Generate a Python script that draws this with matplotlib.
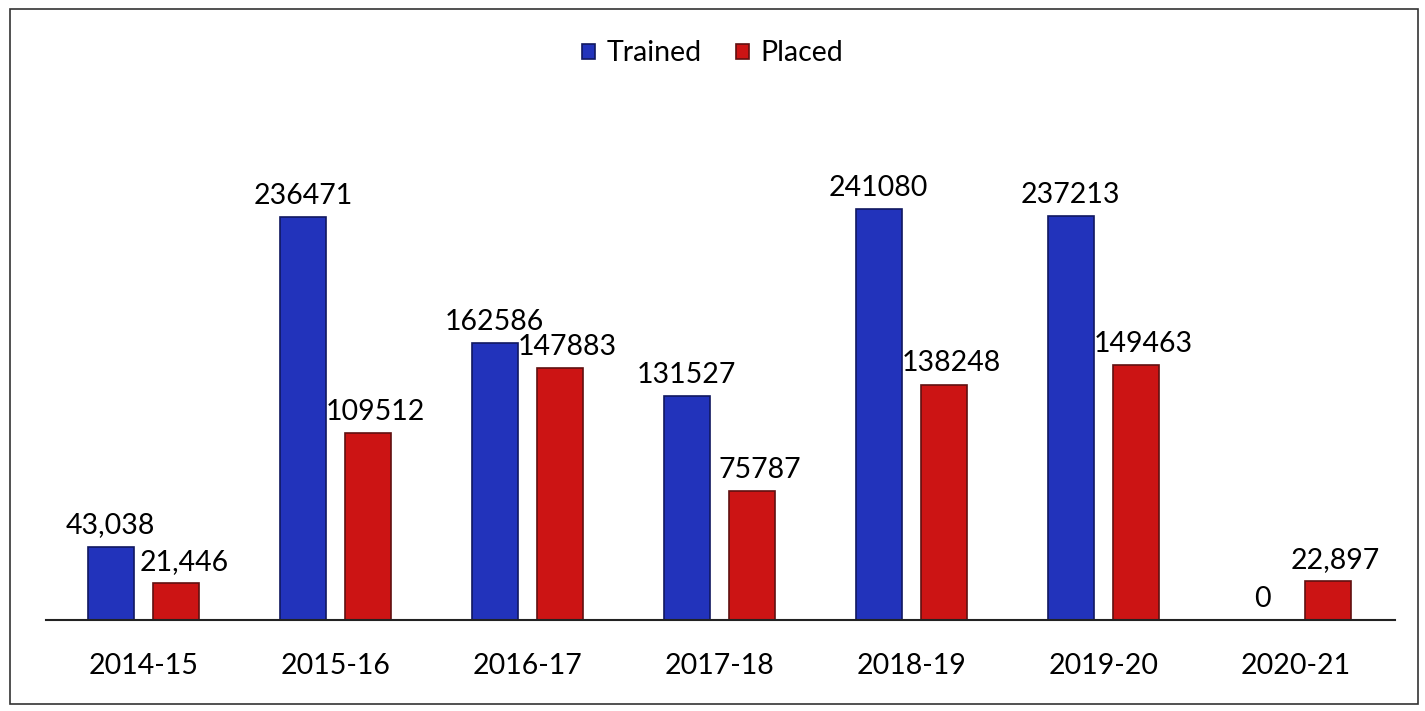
import matplotlib.pyplot as plt
from matplotlib.patches import Rectangle
import numpy as np

years = ['2014-15', '2015-16', '2016-17', '2017-18', '2018-19', '2019-20', '2020-21']
trained = [43038, 236471, 162586, 131527, 241080, 237213, 0]
placed = [21446, 109512, 147883, 75787, 138248, 149463, 22897]
trained_labels = ['43,038', '236471', '162586', '131527', '241080', '237213', '0']
placed_labels = ['21,446', '109512', '147883', '75787', '138248', '149463', '22,897']

plt.rcParams['font.family'] = ['Lato', 'DejaVu Sans']

fig = plt.figure(figsize=(14.25, 7.11), dpi=100)
ax = fig.add_axes([0.032, 0.128, 0.947, 0.745])

x = np.arange(len(years))
w = 0.24
off = 0.17
b1 = ax.bar(x - off, trained, width=w, color='#2233bb', edgecolor='#101860', linewidth=1.2, label='Trained')
b2 = ax.bar(x + off, placed, width=w, color='#cc1414', edgecolor='#601010', linewidth=1.2, label='Placed')

for rect, lab in zip(b1, trained_labels):
    ax.annotate(lab, (rect.get_x() + rect.get_width() / 2, rect.get_height()),
                xytext=(0, 6), textcoords='offset points', ha='center', va='bottom', fontsize=20.5)
for rect, lab in zip(b2, placed_labels):
    ax.annotate(lab, (rect.get_x() + rect.get_width() / 2 + 0.04, rect.get_height()),
                xytext=(0, 6), textcoords='offset points', ha='center', va='bottom', fontsize=20.5)

ax.set_xlim(-0.51, 6.52)
ax.set_ylim(0, 311000)
for s in ['top', 'right', 'left']:
    ax.spines[s].set_visible(False)
ax.spines['bottom'].set_color('#222222')
ax.spines['bottom'].set_linewidth(1.5)
ax.set_yticks([])
ax.set_xticks(x)
ax.set_xticklabels(years, fontsize=20.5)
ax.tick_params(axis='x', length=0, pad=24)

fig.legend(loc='center', bbox_to_anchor=(0.5, 0.925), ncol=2, frameon=False, fontsize=20.5,
           handlelength=0.45, handleheight=0.45, handletextpad=0.4, columnspacing=1.2)

fig.patches.append(Rectangle((0.007, 0.01), 0.988, 0.978, transform=fig.transFigure,
                             fill=False, edgecolor='#333333', linewidth=1.2))

fig.savefig('out.png', dpi=100)
